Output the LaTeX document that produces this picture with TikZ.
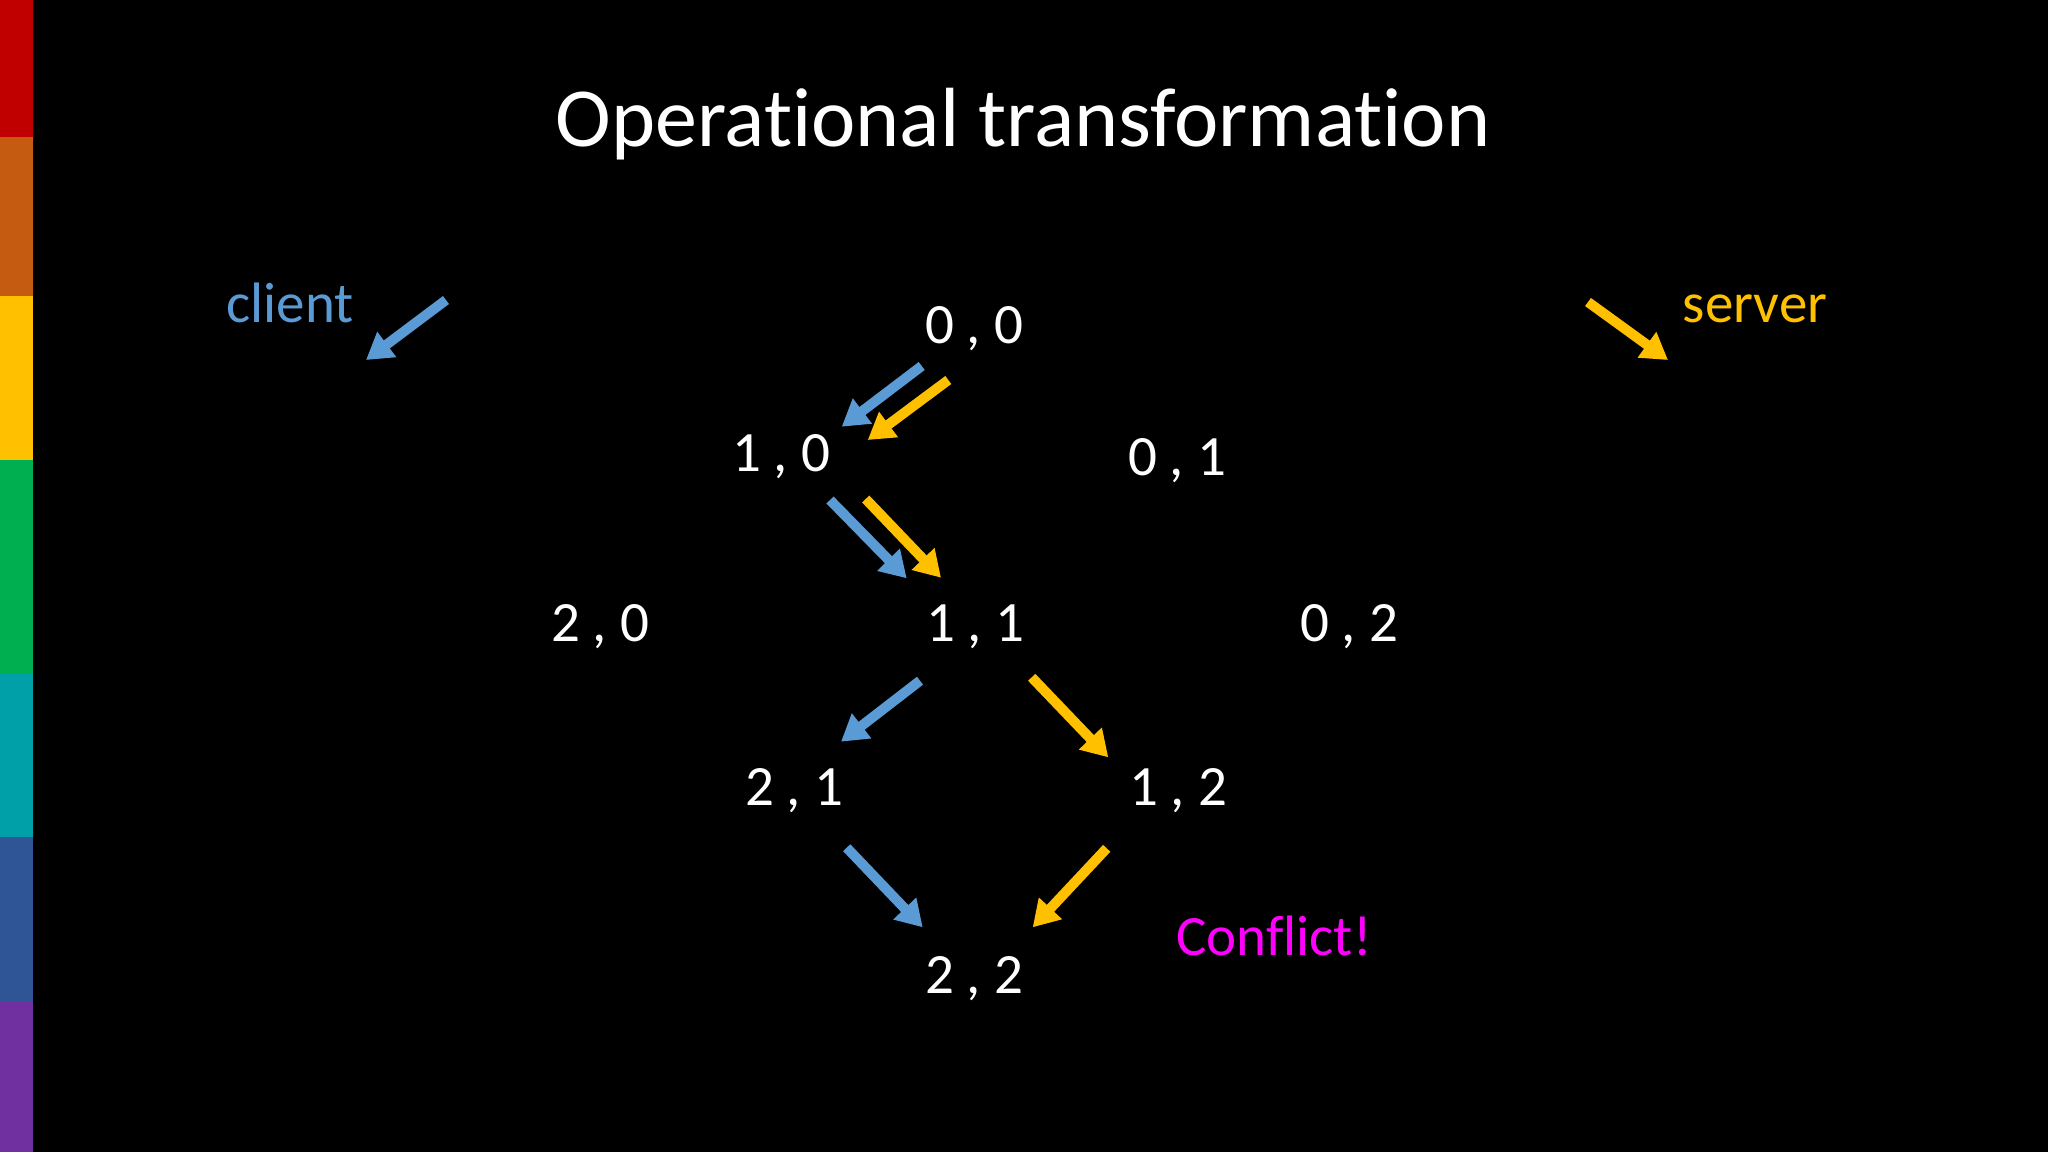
\documentclass[tikz,border=0pt]{standalone}
\usepackage{fontspec}
\setmainfont[Ligatures={NoCommon,NoRare}]{Carlito}
\usetikzlibrary{arrows.meta}
\definecolor{cblue}{HTML}{5B9BD5}
\definecolor{cgold}{HTML}{FFC000}
\definecolor{cmag}{HTML}{FF00FF}
\definecolor{barA}{HTML}{C00000}
\definecolor{barB}{HTML}{C55A11}
\definecolor{barC}{HTML}{FFC000}
\definecolor{barD}{HTML}{00B050}
\definecolor{barE}{HTML}{00A0A8}
\definecolor{barF}{HTML}{2F5597}
\definecolor{barG}{HTML}{7030A0}
\tikzset{
  lbl/.style={anchor=base, inner sep=0pt, text=white, font=\fontsize{57}{60}\selectfont},
  ttl/.style={anchor=base, inner sep=0pt, text=white, font=\fontsize{84}{90}\selectfont},
  arr/.style={line width=10pt, -{Triangle[length=26pt,width=30pt]}},
  carr/.style={arr, draw=cblue},
  sarr/.style={arr, draw=cgold},
}
\begin{document}
\begin{tikzpicture}[x=1pt,y=-1pt]
\fill[black] (0,0) rectangle (2048,1152);
\useasboundingbox (0,0) rectangle (2048,1152);
% colour bar
\fill[barA] (0,0) rectangle (33,137);
\fill[barB] (0,137) rectangle (33,296);
\fill[barC] (0,296) rectangle (33,460);
\fill[barD] (0,460) rectangle (33,674);
\fill[barE] (0,674) rectangle (33,837);
\fill[barF] (0,837) rectangle (33,1002);
\fill[barG] (0,1002) rectangle (33,1152);
% title
\node[ttl] (title) at (1023,146) {Operational transformation};
% legend
\node[lbl, text=cblue] (client) at (290,322) {client};
\node[lbl, text=cgold] (server) at (1755,322) {server};
% states
\node[lbl] (n00) at (974,343) {0 , 0};
\node[lbl] (n10) at (781,471) {1 , 0};
\node[lbl] (n01) at (1177,475) {0 , 1};
\node[lbl] (n20) at (600,641) {2 , 0};
\node[lbl] (n11) at (975,641) {1 , 1};
\node[lbl] (n02) at (1349,641) {0 , 2};
\node[lbl] (n21) at (794,805) {2 , 1};
\node[lbl] (n12) at (1178,805) {1 , 2};
\node[lbl] (n22) at (974,993) {2 , 2};
\node[lbl, text=cmag] (conflict) at (1274,955) {Conflict!};
% arrow end points
\coordinate (cla) at (446,300); \coordinate (clb) at (366,360);
\coordinate (sla) at (1588,302); \coordinate (slb) at (1668,360);
\coordinate (a1) at (921.7,366); \coordinate (b1) at (841.7,426.7);
\coordinate (a2) at (948.3,380); \coordinate (b2) at (867.7,440);
\coordinate (a3) at (830,500); \coordinate (b3) at (906.7,578.3);
\coordinate (a4) at (865.7,499); \coordinate (b4) at (941,577.7);
\coordinate (a5) at (920,680.7); \coordinate (b5) at (841,741.7);
\coordinate (a6) at (1031.7,677.3); \coordinate (b6) at (1108.3,757.3);
\coordinate (a7) at (846.7,847.7); \coordinate (b7) at (922.7,927.3);
\coordinate (a8) at (1106.7,848.3); \coordinate (b8) at (1032.7,927.3);
% arrows
\draw[carr] (cla) -- (clb);
\draw[sarr] (sla) -- (slb);
\draw[carr] (a1) -- (b1);
\draw[sarr] (a2) -- (b2);
\draw[carr] (a3) -- (b3);
\draw[sarr] (a4) -- (b4);
\draw[carr] (a5) -- (b5);
\draw[sarr] (a6) -- (b6);
\draw[carr] (a7) -- (b7);
\draw[sarr] (a8) -- (b8);
\end{tikzpicture}
\end{document}
